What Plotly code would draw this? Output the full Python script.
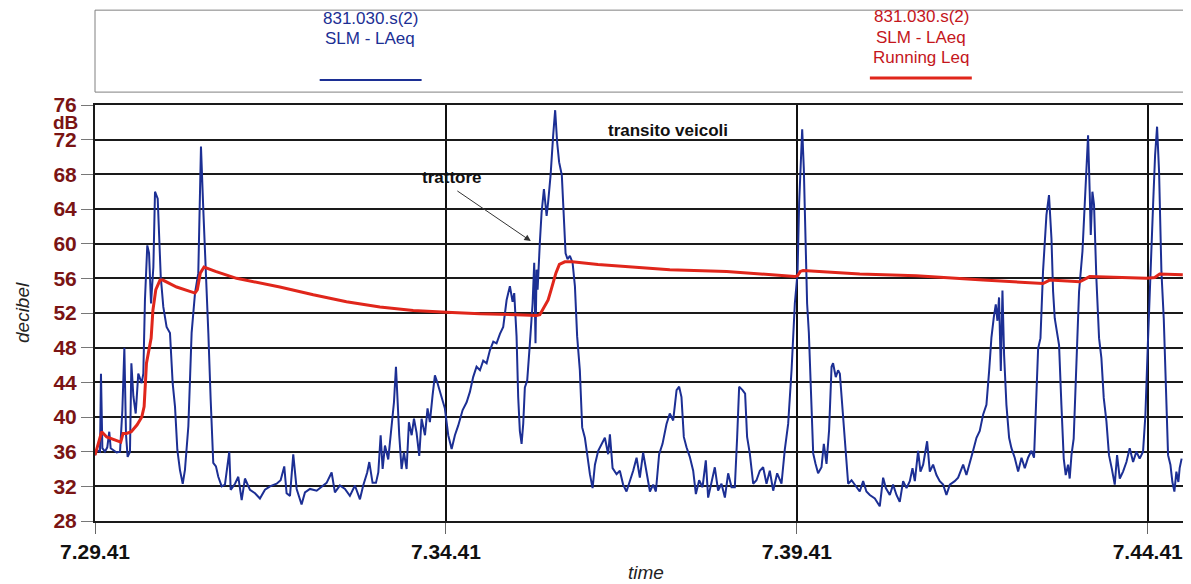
import plotly.graph_objects as go

# ---- data (time in seconds from 7.29.41, level in dB) ----
laeq_t = [0, 1.4, 4.3, 5.1, 6.3, 8.5, 10.5, 12.2, 13.4, 15.7, 18.5, 21.4, 23.4, 25.1, 25.9, 26.5, 27.9, 29.9,
          31.1, 32.8, 34.8, 37.0, 39.9, 41.3, 42.7, 44.7, 46.2, 47.9, 49.9, 51.3, 53.6, 55.0, 56.2, 58.4, 61.2,
          64.1, 66.4, 68.4, 70.4, 72.6, 75.0, 76.9, 79.8, 82.6, 85.5, 88.3, 90.6, 92.6, 94.9, 96.9, 98.9, 101.1,
          103.4, 105.4, 108.3, 111.1, 114.8, 116.0, 119.7, 122.5, 125.4, 128.2, 132.5, 136.8, 141.0, 145.3,
          149.6, 155.3, 158.7, 161.8, 163.8, 166.7, 169.5, 172.4, 176.6, 179.5, 183.8, 189.5, 195.1, 198.0,
          202.3, 205.1, 209.4, 213.7, 217.9, 222.2, 226.5, 229.3, 232.7, 234.5, 237.3, 240.2, 242.2, 244.2,
          245.9, 247.9, 250.7, 253.6, 255.6, 257.3, 258.4, 260.1, 262.1, 264.1, 266.4, 268.4, 270.7, 272.7,
          274.9, 277.2, 279.2, 282.1, 284.3, 286.3, 288.6, 290.6, 292.6, 294.9, 297.2, 299.1, 302.0, 304.9,
          307.7, 310.5, 314.3, 317.7, 320.5, 323.3, 326.2, 329.1, 331.9, 334.8, 337.6, 340.5, 343.3, 346.2,
          349.0, 351.9, 354.7, 357.0, 358.4, 360.4, 361.8, 363.2, 364.7, 366.1, 367.5, 369.5, 371.8, 374.1,
          375.5, 376.6, 377.5, 378.4, 380.3, 381.8, 383.8, 386.1, 387.4, 389.5, 391.7, 393.4, 395.1, 396.8,
          399.1, 400.9, 402.3, 404.0, 406.0, 408.3, 410.3, 412.2, 414.5, 416.5, 418.8, 420.8, 423.1, 425.4,
          427.4, 430.2, 433.1, 435.9, 438.7, 440.2, 442.5, 445.9, 448.7, 451.5, 454.4, 457.3, 460.1, 463.0,
          465.8, 468.6, 471.5, 474.4, 477.2, 479.5, 482.3, 485.2, 488.6, 491.4, 494.3, 497.2, 499.4, 501.4,
          503.4, 505.7, 508.5, 511.4, 513.7, 516.5, 519.4, 522.2, 524.2, 527.1, 529.9, 532.7, 535.6, 538.5,
          541.3, 544.2, 547.0, 549.0, 550.7, 553.6, 555.8, 557.5, 559.8, 562.7, 565.5, 568.4, 571.2, 574.1,
          576.9, 579.8, 583.2, 586.9, 589.7, 592.6, 595.5, 598.3, 600.6, 602.0, 603.4, 604.6, 606.0, 607.4,
          608.8, 610.3, 611.7, 614.0, 616.0, 618.2, 621.1, 623.1, 625.4, 627.6, 629.7, 631.0, 633.3, 635.3,
          636.8, 639.0, 641.0, 643.9, 646.8, 651.0, 653.8, 656.7, 659.5, 662.4, 666.7, 670.9, 673.8, 676.1,
          679.5, 682.3, 685.2, 688.0, 690.9, 693.8, 696.6, 698.9, 700.9, 703.7, 705.7, 708.0, 711.4, 713.7,
          716.5, 719.4, 722.2, 725.1, 727.9, 730.8, 735.0, 737.9, 742.2, 745.0, 747.9, 750.7, 753.6, 756.4,
          759.3, 762.1, 764.4, 766.4, 768.4, 770.1, 771.5, 772.9, 774.4, 775.8, 777.2, 779.2, 781.5, 783.5,
          786.3, 789.2, 792.1, 794.9, 797.7, 800.6, 802.8, 804.3, 806.3, 808.3, 810.5, 813.4, 815.6, 817.7,
          819.1, 820.5, 822.5, 824.2, 826.2, 828.2, 829.9, 831.9, 833.3, 834.8, 836.7, 839.0, 841.3, 844.2,
          846.2, 847.6, 849.0, 850.4, 851.3, 852.7, 854.1, 856.1, 858.4, 860.4, 862.4, 864.7, 866.9, 869.2,
          871.8, 873.8, 876.1, 878.9, 881.8, 884.6, 887.5, 890.3, 893.1, 896.0, 898.0, 900.3, 902.3, 904.6,
          906.3, 908.0, 909.7, 911.7, 913.7, 915.4, 917.4, 919.4, 921.1, 922.8, 924.5, 926.2, 927.3, 929.0]
laeq_db = [35.6, 36.2, 36.0, 45.0, 36.4, 36.0, 36.5, 38.3, 36.4, 36.2, 35.9, 36.0, 40.8, 48.0, 42.0, 38.0, 35.4, 36.0,
           46.2, 42.4, 40.4, 45.0, 43.9, 45.0, 53.5, 59.8, 58.9, 53.1, 57.3, 66.0, 65.2, 61.2, 56.2, 52.7, 50.4,
           49.7, 43.9, 41.2, 36.2, 33.9, 32.3, 33.9, 38.9, 49.7, 54.3, 56.6, 71.2, 63.9, 55.0, 49.7, 42.0, 34.7,
           34.3, 33.1, 32.0, 32.2, 36.0, 31.6, 32.3, 33.1, 30.4, 32.9, 31.6, 31.2, 30.6, 31.6,
           32.0, 32.3, 32.7, 34.3, 31.2, 30.9, 35.7, 31.7, 29.9, 31.3, 31.7, 31.5, 32.1, 32.4,
           33.6, 31.3, 32.1, 31.7, 30.9, 32.1, 30.5, 32.1, 33.6, 34.8, 32.4, 32.4, 33.6, 37.9,
           34.0, 36.7, 35.1, 38.6, 41.7, 45.8, 42.5, 37.9, 34.0, 35.9, 34.0, 39.4, 37.9, 39.8,
           38.2, 35.5, 39.8, 37.9, 41.0, 39.4, 42.5, 44.8, 44.0, 42.9, 41.7, 41.0, 37.9, 36.3,
           37.9, 39.0, 40.8, 41.7, 42.9, 44.6, 45.8, 45.4, 46.5, 46.2, 47.7, 48.7, 48.5, 49.6,
           50.4, 53.5, 55.1, 53.3, 54.3, 49.3, 42.3, 38.4, 36.9, 39.2, 43.4, 44.2, 48.5, 53.1,
           57.8, 48.5, 57.0, 54.7, 60.1, 63.6, 66.3, 63.2, 64.8, 67.9, 72.5, 75.4, 71.7, 69.4,
           67.9, 63.2, 58.9, 58.2, 58.6, 57.8, 55.1, 49.3, 45.4, 38.8, 37.6, 35.7, 33.4, 31.8,
           34.5, 36.1, 36.9, 37.6, 35.7, 38.0, 34.1, 33.4, 33.8, 32.2, 31.4, 32.6, 33.8, 35.3,
           33.0, 35.9, 33.8, 31.4, 32.2, 31.4, 35.7, 36.9, 39.2, 40.4, 39.6, 43.1, 43.5, 42.3,
           37.7, 36.5, 35.4, 33.8, 31.1, 32.7, 31.9, 35.0, 30.7, 32.3, 34.2, 31.5, 32.3, 30.7,
           33.5, 31.9, 31.9, 37.7, 43.5, 43.1, 42.7, 37.7, 35.8, 32.3, 32.7, 33.8, 34.2, 32.3,
           33.8, 31.5, 33.5, 32.3, 36.2, 39.2, 45.4, 53.1, 56.6, 64.7, 70.5, 73.2, 68.6, 60.9,
           53.1, 49.7, 43.5, 35.8, 34.6, 33.5, 34.2, 36.9, 34.6, 38.5, 45.8, 46.2, 44.6, 45.4,
           45.0, 40.8, 37.7, 32.3, 32.7, 31.9, 31.4, 32.6, 31.4, 31.0, 30.6, 29.7, 33.0, 31.8,
           31.0, 32.2, 31.0, 30.2, 32.6, 31.8, 32.6, 34.1, 32.6, 36.1, 33.7, 34.5, 37.2, 33.7,
           34.5, 33.3, 32.6, 32.2, 31.0, 32.2, 32.6, 33.0, 34.5, 33.3, 34.9, 36.1, 37.6, 38.4,
           40.3, 41.4, 45.3, 49.2, 51.5, 53.0, 51.1, 53.8, 45.3, 54.6, 47.2, 41.4, 37.6, 36.4,
           35.3, 33.7, 35.3, 34.1, 35.3, 36.1, 35.3, 41.4, 47.9, 49.1, 56.8, 63.3, 65.6, 60.6,
           54.5, 51.4, 49.8, 48.3, 41.4, 35.2, 33.3, 34.5, 32.9, 35.6, 37.5, 45.2, 54.5, 59.1,
           64.5, 68.3, 72.5, 66.0, 61.0, 66.0, 64.5, 56.0, 49.1, 46.8, 42.2, 39.5, 35.6, 34.1,
           32.2, 35.6, 32.9, 33.7, 34.8, 36.4, 34.8, 36.0, 35.2, 36.0, 40.2, 49.1, 57.5, 64.5,
           70.2, 73.5, 68.3, 56.8, 51.4, 43.3, 35.6, 34.5, 32.5, 31.4, 33.7, 32.5, 34.1, 35.2]

leq_t = [0, 2.0, 5.7, 10, 17, 22, 24, 27, 31, 36, 40, 42, 44, 46.2, 48, 49.5, 52, 55.6, 58, 69.8, 81.2, 85.5,
         87.5, 90, 93.2, 103, 121, 145, 158, 186.6, 215, 243.6, 272, 300.6, 329, 360, 377.5, 380.3, 384.6,
         387.4, 390, 394, 397, 401.7, 408, 430, 491.4, 540, 598.3, 600.6, 603, 605.4, 653.8, 702.2, 759.3,
         810.5, 816.2, 841.9, 850.4, 898.9, 906, 910.2, 930]
leq_db = [35.6, 36.6, 38.3, 37.7, 37.3, 37.1, 38.1, 38.1, 38.3, 39.1, 40.0, 41.2, 46.2, 48.1, 49.1, 52.3, 54.7,
          55.8, 55.8, 55.0, 54.5, 54.3, 54.7, 56.6, 57.3, 56.8, 56.0, 55.4, 55.0, 54.1, 53.3, 52.7, 52.3, 52.1,
          51.9, 51.8, 51.7, 51.8, 52.8, 53.5, 54.7, 56.6, 57.6, 57.9, 57.9, 57.6, 57.0, 56.8, 56.2, 56.3, 56.8,
          56.9, 56.5, 56.3, 55.8, 55.4, 55.8, 55.6, 56.2, 56.0, 56.1, 56.5, 56.4]

x_tickvals = [0, 300, 600, 900]
x_ticktext = ["7.29.41", "7.34.41", "7.39.41", "7.44.41"]
y_tickvals = [28, 32, 36, 40, 44, 48, 52, 56, 60, 64, 68, 72, 76]

BLUE = "#1c2f94"
RED = "#e0261b"
MAROON = "#7a1414"
FONT = "Liberation Sans"

fig = go.Figure()
fig.add_trace(go.Scatter(x=laeq_t, y=laeq_db, mode="lines", line=dict(color=BLUE, width=2),
                         name="831.030.s(2) SLM - LAeq", showlegend=False))
fig.add_trace(go.Scatter(x=leq_t, y=leq_db, mode="lines", line=dict(color=RED, width=3),
                         name="831.030.s(2) SLM - LAeq Running Leq", showlegend=False))

# page body has an 8px margin: figure sized/offset so the plot lands where the reference has it
fig.update_layout(
    width=1183, height=576,
    margin=dict(l=87, r=0, t=97, b=63),
    paper_bgcolor="white", plot_bgcolor="white",
    font=dict(family=FONT),
    xaxis=dict(range=[0, 937], tickvals=x_tickvals, ticktext=x_ticktext,
               showgrid=True, gridcolor="#111111", gridwidth=1.5, zeroline=False,
               showline=True, linecolor="#1a1a1a", linewidth=2, mirror=True,
               ticks="outside", ticklen=11, tickcolor="#666666", tickwidth=1,
               tickfont=dict(family=FONT, size=21, color="#111111", weight="bold")),
    yaxis=dict(range=[28, 76], tickvals=y_tickvals,
               showgrid=True, gridcolor="#1a1a1a", gridwidth=2, zeroline=False,
               showline=True, linecolor="#1a1a1a", linewidth=2,
               ticks="outside", ticklen=12, tickcolor="#777777",
               tickfont=dict(family=FONT, size=21, color=MAROON, weight="bold")),
)

# legend box drawn above the plot
fig.add_shape(type="rect", xref="paper", yref="paper", x0=0, x1=1.02, y0=1.031, y1=1.228,
              line=dict(color="#808080", width=1), fillcolor="rgba(0,0,0,0)", layer="above")
fig.add_shape(type="line", xref="paper", yref="paper", x0=0.205, x1=0.298, y0=1.060, y1=1.060,
              line=dict(color=BLUE, width=2))
fig.add_shape(type="line", xref="paper", yref="paper", x0=0.707, x1=0.800, y0=1.065, y1=1.065,
              line=dict(color=RED, width=3))

leg_font_b = dict(family=FONT, size=17, color=BLUE)
leg_font_r = dict(family=FONT, size=17, color="#c4161c")
for txt, yy in [("831.030.s(2)", 1.209), ("SLM - LAeq", 1.159)]:
    fig.add_annotation(text=txt, xref="paper", yref="paper", x=0.251, y=yy, showarrow=False,
                       font=leg_font_b, xanchor="center", yanchor="middle")
for txt, yy in [("831.030.s(2)", 1.212), ("SLM - LAeq", 1.163), ("Running Leq", 1.113)]:
    fig.add_annotation(text=txt, xref="paper", yref="paper", x=0.754, y=yy, showarrow=False,
                       font=leg_font_r, xanchor="center", yanchor="middle")

# axis titles and unit
fig.add_annotation(text="dB", xref="paper", yref="paper", x=-0.0137, y=0.957, showarrow=False,
                   xanchor="right", yanchor="middle",
                   font=dict(family=FONT, size=19, color=MAROON, weight="bold"))
fig.add_annotation(text="<i>decibel</i>", xref="paper", yref="paper", x=-0.0666, y=0.50, showarrow=False,
                   textangle=-90, xanchor="center", yanchor="middle",
                   font=dict(family=FONT, size=19, color="#222222"))
fig.add_annotation(text="<i>time</i>", xref="paper", yref="paper", x=0.503, y=-0.123, showarrow=False,
                   xanchor="center", yanchor="middle",
                   font=dict(family=FONT, size=19, color="#222222"))

# in-plot notes
fig.add_annotation(text="<b>transito veicoli</b>", x=489.7, y=73.1, showarrow=False,
                   font=dict(family=FONT, size=17, color="#111111"))
fig.add_annotation(text="<b>trattore</b>", x=305, y=67.6, showarrow=False,
                   font=dict(family=FONT, size=17, color="#111111"))
fig.add_annotation(text="", x=372.6, y=60.3, ax=308.5, ay=66.2, axref="x", ayref="y",
                   showarrow=True, arrowhead=2, arrowsize=1.3, arrowwidth=1, arrowcolor="#333333")

fig.write_html("out.html")
